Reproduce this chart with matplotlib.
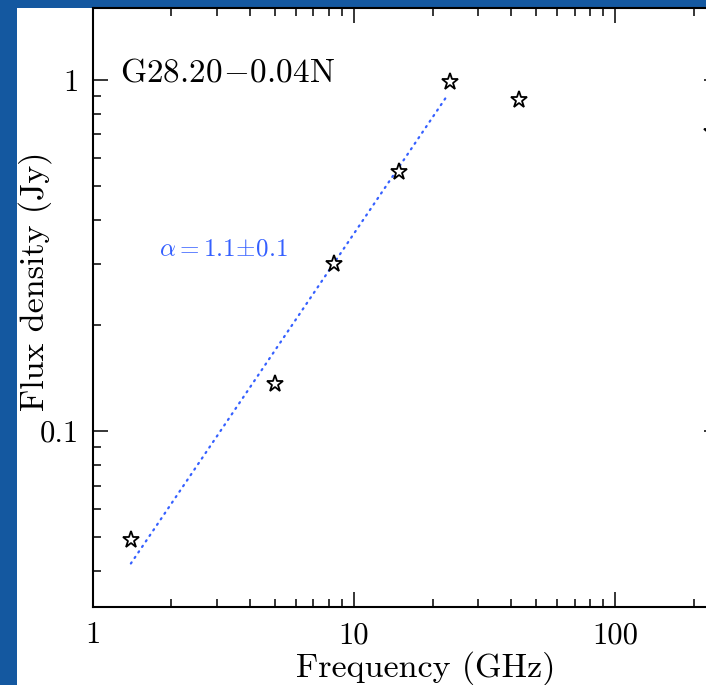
import numpy as np
import matplotlib
matplotlib.use("Agg")
import matplotlib.pyplot as plt
from matplotlib.patches import Rectangle
from matplotlib.ticker import FixedLocator, LogLocator, FuncFormatter, NullFormatter

plt.rcParams["font.family"] = "serif"
plt.rcParams["font.serif"] = ["cmr10"]
plt.rcParams["mathtext.fontset"] = "cm"
plt.rcParams["axes.unicode_minus"] = False

# measured flux densities of the source
freq_ghz = [1.4, 4.98, 8.4, 14.9, 23.4, 42.7, 235.0]
flux_jy = [0.049, 0.136, 0.30, 0.546, 0.987, 0.877, 0.71]

# power-law fit S ~ nu^alpha over the cm points
alpha = 1.1
alpha_err = 0.1
s_at_10ghz = 0.365
fit_range = [1.4, 22.6]

source_name = r"$\mathrm{G28.20\!-\!0.04N}$"

W, H = 706, 685
fig = plt.figure(figsize=(W / 100, H / 100), dpi=100)
fig.patch.set_facecolor("#1458a0")

# white slide panel behind the plot
top = 1 - 8.3 / H
fig.patches.append(Rectangle((16.7 / W, 0), 1, top, transform=fig.transFigure,
                             facecolor="white", edgecolor="none", zorder=-5))

ax = fig.add_axes([92.7 / W, 1 - 606.7 / H, (719 - 92.7) / W, (606.7 - 8.3) / H])
ax.set_facecolor("white")
ax.set_xscale("log")
ax.set_yscale("log")
ax.set_xlim(1, 250)
ax.set_ylim(10 ** -1.5, 1.6)

nu = np.geomspace(fit_range[0], fit_range[1], 200)
ax.plot(nu, s_at_10ghz * (nu / 10) ** alpha, color="#3560ff", lw=1.6,
        dashes=(0.6, 2.4), dash_capstyle="round")
ax.plot(freq_ghz, flux_jy, linestyle="none", marker="*", ms=12.5,
        mfc="white", mec="black", mew=1.3, clip_on=False, zorder=5)

for s in ax.spines.values():
    s.set_linewidth(1.5)

ax.xaxis.set_major_locator(FixedLocator([1, 10, 100]))
ax.yaxis.set_major_locator(FixedLocator([0.1, 1]))
ax.xaxis.set_minor_locator(LogLocator(base=10, subs=np.arange(2, 10)))
ax.yaxis.set_minor_locator(LogLocator(base=10, subs=np.arange(2, 10)))
ax.xaxis.set_minor_formatter(NullFormatter())
ax.yaxis.set_minor_formatter(NullFormatter())
ax.xaxis.set_major_formatter(FuncFormatter(lambda v, p: "%g" % v))
ax.yaxis.set_major_formatter(FuncFormatter(lambda v, p: "%g" % v))

ax.tick_params(which="both", direction="in", top=True, right=True, width=1.1)
ax.tick_params(which="major", length=11, labelsize=22)
ax.tick_params(which="minor", length=5.5)
ax.tick_params(axis="x", pad=11)
ax.tick_params(axis="y", pad=9.9)

fig.text(120 / W, 1 - 81 / H, source_name, fontsize=24, va="baseline", ha="left")
fig.text(159 / W, 1 - 256 / H, r"$\alpha\mathrm{=1.1\!\pm\!0.1}$", fontsize=18,
         color="#3560ff", va="baseline", ha="left")

fig.text(425.5 / W, 1 - 677 / H, "Frequency (GHz)", fontsize=24.5, ha="center", va="baseline")
fig.text(44 / W, 1 - 281 / H, "Flux density (Jy)", fontsize=24.5, rotation=90,
         rotation_mode="anchor", ha="center", va="baseline")

fig.savefig("out.png", dpi=100, facecolor=fig.get_facecolor())
